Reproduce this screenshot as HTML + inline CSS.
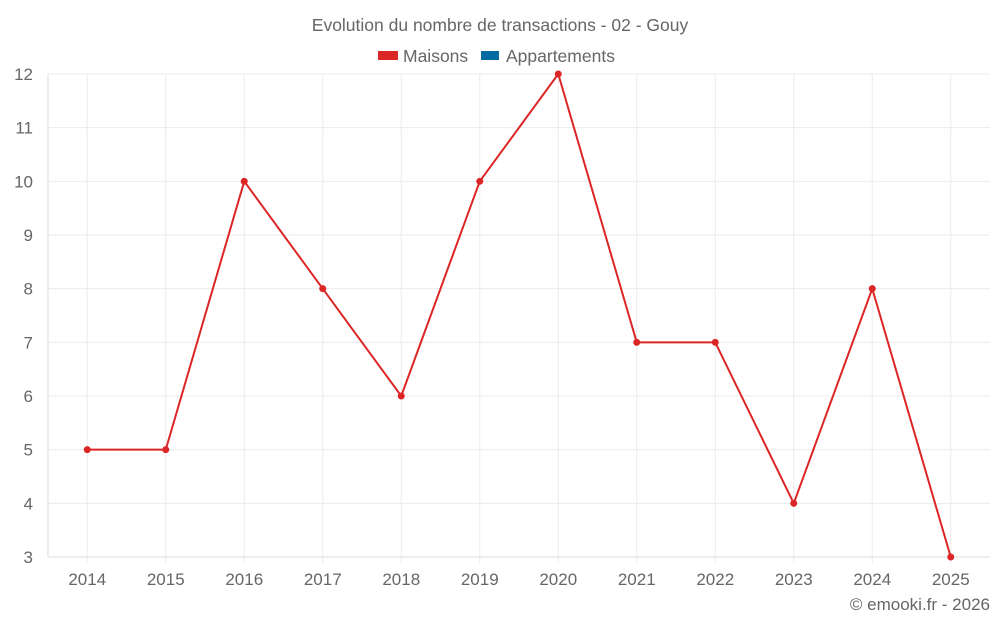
<!DOCTYPE html>
<html><head><meta charset="utf-8"><style>
body{margin:0;background:#fff;width:1000px;height:625px;overflow:hidden}
svg text{font-family:"Liberation Sans",sans-serif;fill:#666}
</style></head><body>
<svg id="chart" width="1000" height="625" xmlns="http://www.w3.org/2000/svg">
<text x="500" y="31" font-size="17.5" text-anchor="middle">Evolution du nombre de transactions - 02 - Gouy</text>
<g><rect x="378" y="51" width="20" height="9" fill="#dc2626"/><text x="403" y="62" font-size="17.5">Maisons</text></g>
<g><rect x="481" y="51" width="18" height="9" fill="#0369a1"/><text x="506" y="62" font-size="17.5">Appartements</text></g>
<g id="grid"></g>
<g id="axes"></g>
<g id="series"></g>
<text x="990" y="610" font-size="17" text-anchor="end">© emooki.fr - 2026</text>
</svg>
<script>
const categories=["2014","2015","2016","2017","2018","2019","2020","2021","2022","2023","2024","2025"];
const maisons=[5,5,10,8,6,10,12,7,7,4,8,3];
const yTicks=[3,4,5,6,7,8,9,10,11,12];
const L=48,R=990,T=74,B=557,yMin=3,yMax=12;
const bw=(R-L)/categories.length;
const x=i=>L+bw*(i+0.5);
const y=v=>B-(v-yMin)/(yMax-yMin)*(B-T);
const NS="http://www.w3.org/2000/svg";
function mk(tag,attrs,parent,txt){const e=document.createElementNS(NS,tag);for(const k in attrs)e.setAttribute(k,attrs[k]);if(txt!==undefined)e.textContent=txt;parent.appendChild(e);return e;}
const grid=document.getElementById('grid'),axes=document.getElementById('axes'),ser=document.getElementById('series');
yTicks.forEach(t=>{
 const l=mk('line',{x1:L,x2:R,y1:y(t),y2:y(t),stroke:t===yMin?'#ddd':'#ebebeb','stroke-width':1},grid);
 
 
 const tx=mk('text',{x:33,y:y(t)+6,'font-size':17,'text-anchor':'end'},axes,String(t));
 
 
});
const ax=mk('line',{x1:L,x2:L,y1:T,y2:B,stroke:'#ddd'},grid);


categories.forEach((c,i)=>{
 const l=mk('line',{x1:x(i),x2:x(i),y1:T,y2:B+6,stroke:'#ebebeb'},grid);
 
 
 const tx=mk('text',{x:x(i),y:585,'font-size':17,'text-anchor':'middle'},axes,c);
 
 
});
const p=mk('polyline',{points:maisons.map((v,i)=>x(i)+','+y(v)).join(' '),fill:'none',stroke:'#dc2626','stroke-width':2},ser);


maisons.forEach((v,i)=>{
 const c=mk('circle',{cx:x(i),cy:y(v),r:3.5,fill:'#dc2626'},ser);
 
 
});
</script>
</body></html>
